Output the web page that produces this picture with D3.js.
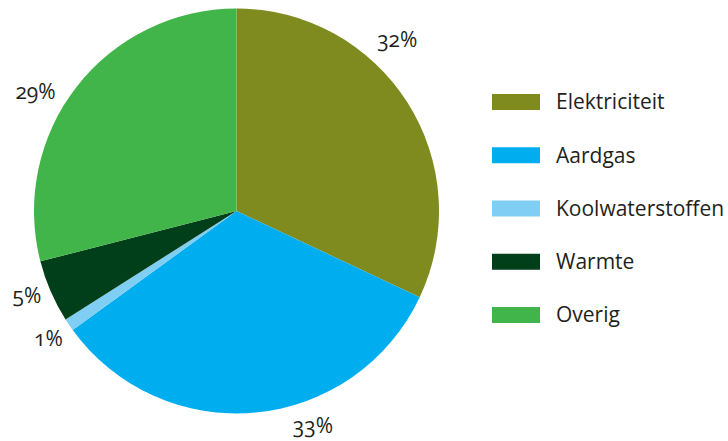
<!DOCTYPE html>
<html>
<head>
<meta charset="utf-8">
<script src="https://cdn.jsdelivr.net/npm/d3@7"></script>
<style>
  html, body { margin: 0; padding: 0; background: #fff; }
  svg text { font-family: "Open Sans", sans-serif; fill: #231f20; font-variant-numeric: oldstyle-nums; font-feature-settings: "onum" 1; }
</style>
</head>
<body>
<svg id="chart" width="728" height="441"></svg>
<script>
const categories = ["Elektriciteit", "Aardgas", "Koolwaterstoffen", "Warmte", "Overig"];
const values = [32, 33, 1, 5, 29];
const valueLabels = ["32%", "33%", "1%", "5%", "29%"];
const colors = ["#7f8b1f", "#00aeef", "#80cef3", "#013f1b", "#42b54a"];

// label anchors (polar: degrees clockwise from top, distance from centre)
const labelLayout = [
  { angle: 43.4, dist: 234 },
  { angle: 160.5, dist: 229 },
  { angle: 235.6, dist: 228 },
  { angle: 247.7, dist: 226.5 },
  { angle: 300.4, dist: 233 }
];

const svg = d3.select("#chart");
const cx = 236.5, cy = 211, r = 202.5;

const pie = d3.pie().sort(null).value(d => d);
const arcs = pie(values);
const arc = d3.arc().innerRadius(0).outerRadius(r);

const g = svg.append("g").attr("transform", `translate(${cx},${cy})`);
g.selectAll("path").data(arcs).join("path")
  .attr("d", arc)
  .attr("fill", (d, i) => colors[i]);

g.selectAll("text.val").data(arcs).join("text")
  .attr("class", "val")
  .attr("x", (d, i) => Math.sin(labelLayout[i].angle * Math.PI / 180) * labelLayout[i].dist)
  .attr("y", (d, i) => -Math.cos(labelLayout[i].angle * Math.PI / 180) * labelLayout[i].dist)
  .attr("text-anchor", "middle")
  .attr("dy", "0.3em")
  .attr("font-size", 21)
  .text((d, i) => valueLabels[i]);

// legend
const ly = d3.scalePoint().domain(categories).range([102, 315]);
const leg = svg.append("g");
const rows = leg.selectAll("g").data(categories).join("g")
  .attr("transform", d => `translate(492,${ly(d)})`);
rows.append("rect")
  .attr("x", 0).attr("y", -8).attr("width", 48).attr("height", 16)
  .attr("fill", (d, i) => colors[i]);
rows.append("text")
  .attr("x", 64).attr("dy", "0.35em")
  .attr("font-size", 21)
  .text(d => d);
</script>
</body>
</html>
